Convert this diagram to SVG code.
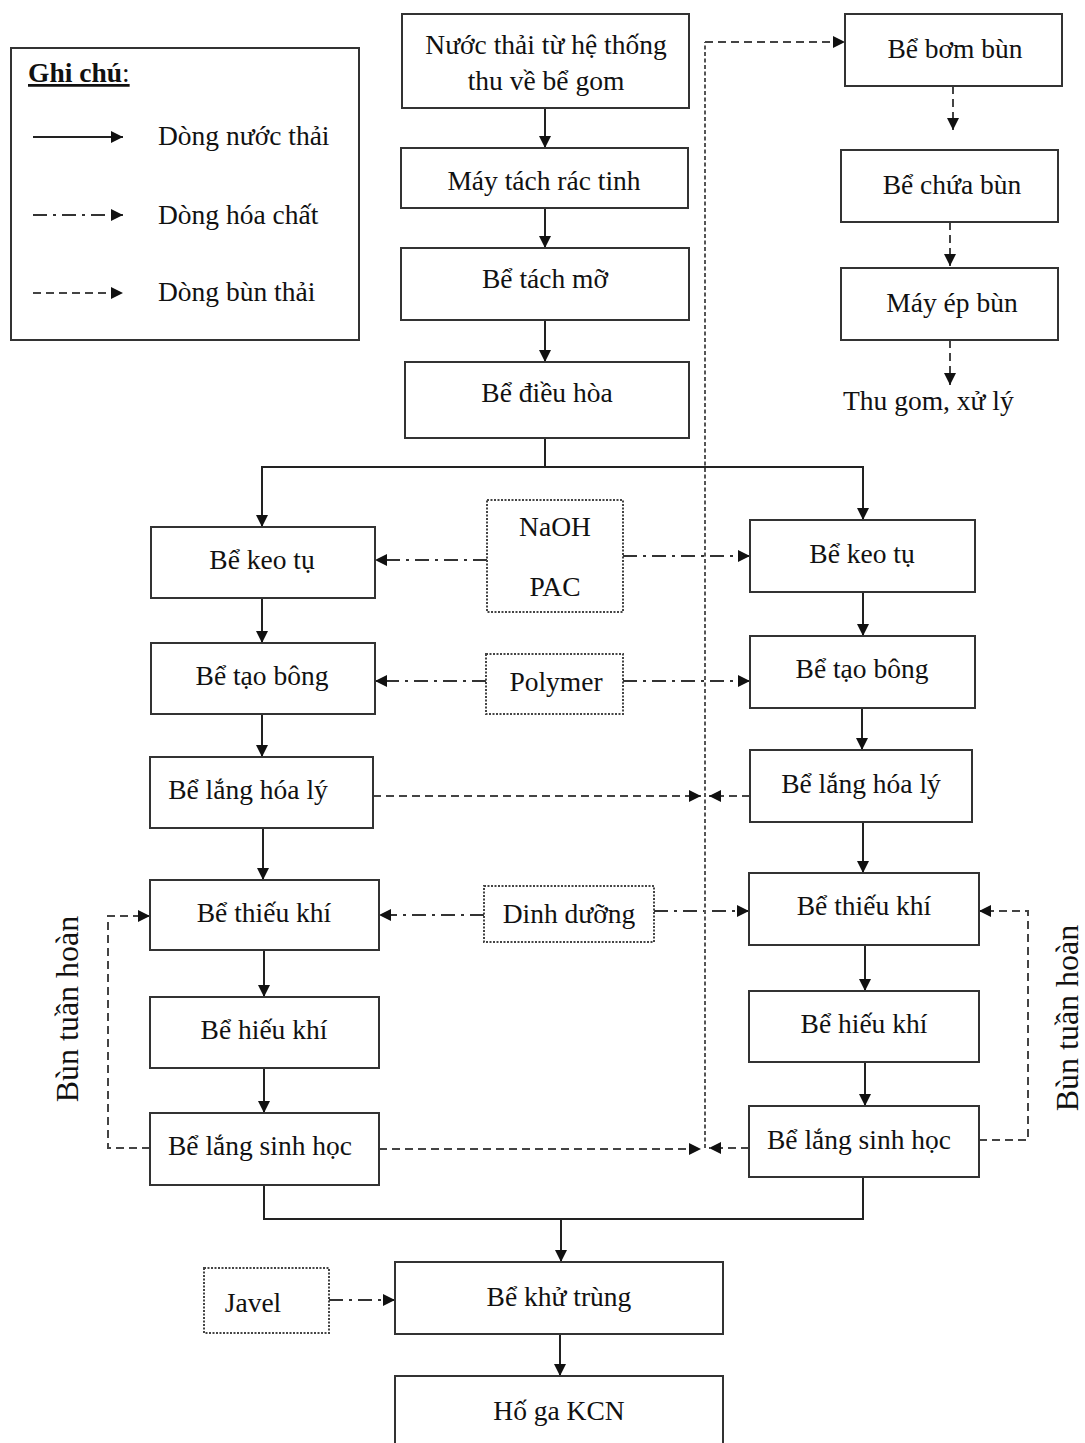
<svg xmlns="http://www.w3.org/2000/svg" width="1085" height="1443" viewBox="0 0 1085 1443">
  <style>
    text { font-family: "Liberation Serif", "Times New Roman", serif; font-size: 27.5px; fill: #111; }
    .box { fill: #fff; stroke: #333; stroke-width: 2; }
    .chem { fill: #fff; stroke: #444; stroke-width: 2; stroke-dasharray: 2 1.5; }
    .flow { fill: none; stroke: #222; stroke-width: 2; }
    .dose { fill: none; stroke: #333; stroke-width: 2; stroke-dasharray: 14 6 3 6; }
    .sludge { fill: none; stroke: #444; stroke-width: 2; stroke-dasharray: 8 5; }
    .trunk { fill: none; stroke: #555; stroke-width: 2; stroke-dasharray: 4 2.5; }
    .c { text-anchor: middle; dominant-baseline: central; }
    .rot { font-size: 32px; }
  </style>
  <defs>
    <marker id="ah" viewBox="0 0 10 10" refX="10" refY="5" markerWidth="12" markerHeight="12" markerUnits="userSpaceOnUse" orient="auto">
      <path d="M0,0 L10,5 L0,10 z" fill="#111"/>
    </marker>
  </defs>

  <rect width="1085" height="1443" fill="#fff"/>

  <!-- legend -->
  <g id="legend">
    <rect x="11" y="48" width="348" height="292" class="box"/>
    <text x="28" y="82" style="font-weight:bold;text-decoration:underline">Ghi chú<tspan style="font-weight:normal">:</tspan></text>
    <line x1="33" y1="137" x2="123" y2="137" class="flow" marker-end="url(#ah)"/>
    <line x1="33" y1="215" x2="123" y2="215" class="dose" marker-end="url(#ah)"/>
    <line x1="33" y1="293" x2="123" y2="293" class="sludge" marker-end="url(#ah)"/>
    <text x="158" y="145">Dòng nước thải</text>
    <text x="158" y="224">Dòng hóa chất</text>
    <text x="158" y="301">Dòng bùn thải</text>
  </g>

  <!-- connectors -->
  <g id="connectors">
    <!-- main water line -->
    <line x1="545" y1="108" x2="545" y2="148" class="flow" marker-end="url(#ah)"/>
    <line x1="545" y1="208" x2="545" y2="248" class="flow" marker-end="url(#ah)"/>
    <line x1="545" y1="320" x2="545" y2="362" class="flow" marker-end="url(#ah)"/>
    <polyline points="545,438 545,467 262,467 262,527" class="flow" marker-end="url(#ah)"/>
    <polyline points="545,467 863,467 863,520" class="flow" marker-end="url(#ah)"/>
    <!-- left train -->
    <line x1="262" y1="598" x2="262" y2="643" class="flow" marker-end="url(#ah)"/>
    <line x1="262" y1="714" x2="262" y2="757" class="flow" marker-end="url(#ah)"/>
    <line x1="263" y1="828" x2="263" y2="880" class="flow" marker-end="url(#ah)"/>
    <line x1="264" y1="950" x2="264" y2="997" class="flow" marker-end="url(#ah)"/>
    <line x1="264" y1="1068" x2="264" y2="1113" class="flow" marker-end="url(#ah)"/>
    <!-- right train -->
    <line x1="863" y1="592" x2="863" y2="636" class="flow" marker-end="url(#ah)"/>
    <line x1="862" y1="708" x2="862" y2="750" class="flow" marker-end="url(#ah)"/>
    <line x1="863" y1="822" x2="863" y2="873" class="flow" marker-end="url(#ah)"/>
    <line x1="865" y1="945" x2="865" y2="991" class="flow" marker-end="url(#ah)"/>
    <line x1="865" y1="1062" x2="865" y2="1106" class="flow" marker-end="url(#ah)"/>
    <!-- merge to disinfection -->
    <polyline points="264,1185 264,1219 863,1219 863,1177" class="flow"/>
    <line x1="561" y1="1219" x2="561" y2="1262" class="flow" marker-end="url(#ah)"/>
    <line x1="560" y1="1334" x2="560" y2="1376" class="flow" marker-end="url(#ah)"/>

    <!-- chemical dosing -->
    <line x1="487" y1="560" x2="375" y2="560" class="dose" marker-end="url(#ah)"/>
    <line x1="623" y1="556" x2="750" y2="556" class="dose" marker-end="url(#ah)"/>
    <line x1="486" y1="681" x2="375" y2="681" class="dose" marker-end="url(#ah)"/>
    <line x1="623" y1="681" x2="750" y2="681" class="dose" marker-end="url(#ah)"/>
    <line x1="484" y1="915" x2="379" y2="915" class="dose" marker-end="url(#ah)"/>
    <line x1="654" y1="911" x2="749" y2="911" class="dose" marker-end="url(#ah)"/>
    <line x1="329" y1="1300" x2="395" y2="1300" class="dose" marker-end="url(#ah)"/>

    <!-- sludge collection trunk -->
    <line x1="705" y1="1148" x2="705" y2="42" class="trunk"/>
    <line x1="705" y1="42" x2="845" y2="42" class="sludge" marker-end="url(#ah)"/>
    <line x1="373" y1="796" x2="701" y2="796" class="sludge" marker-end="url(#ah)"/>
    <line x1="750" y1="796" x2="709" y2="796" class="sludge" marker-end="url(#ah)"/>
    <line x1="379" y1="1149" x2="701" y2="1149" class="sludge" marker-end="url(#ah)"/>
    <line x1="749" y1="1148" x2="709" y2="1148" class="sludge" marker-end="url(#ah)"/>
    <!-- sludge handling -->
    <line x1="953" y1="86" x2="953" y2="130" class="sludge" marker-end="url(#ah)"/>
    <line x1="950" y1="222" x2="950" y2="266" class="sludge" marker-end="url(#ah)"/>
    <line x1="950" y1="340" x2="950" y2="385" class="sludge" marker-end="url(#ah)"/>
    <!-- return sludge -->
    <polyline points="150,1148 108,1148 108,916 150,916" class="sludge" marker-end="url(#ah)"/>
    <polyline points="979,1140 1028,1140 1028,911 979,911" class="sludge" marker-end="url(#ah)"/>
  </g>

  <!-- main line -->
  <g id="n-inlet"><rect x="402" y="14" width="287" height="94" class="box"/>
    <text x="546" y="44" class="c">Nước thải từ hệ thống</text>
    <text x="546" y="80" class="c">thu về bể gom</text></g>
  <g id="n-screen"><rect x="401" y="148" width="287" height="60" class="box"/>
    <text x="544" y="180" class="c">Máy tách rác tinh</text></g>
  <g id="n-grease"><rect x="401" y="248" width="288" height="72" class="box"/>
    <text x="545" y="278" class="c">Bể tách mỡ</text></g>
  <g id="n-equal"><rect x="405" y="362" width="284" height="76" class="box"/>
    <text x="547" y="392" class="c">Bể điều hòa</text></g>

  <!-- left train -->
  <g id="n-coag-l"><rect x="151" y="527" width="224" height="71" class="box"/>
    <text x="262" y="559" class="c">Bể keo tụ</text></g>
  <g id="n-floc-l"><rect x="151" y="643" width="224" height="71" class="box"/>
    <text x="262" y="675" class="c">Bể tạo bông</text></g>
  <g id="n-sed1-l"><rect x="150" y="757" width="223" height="71" class="box"/>
    <text x="248" y="789" class="c">Bể lắng hóa lý</text></g>
  <g id="n-anox-l"><rect x="150" y="880" width="229" height="70" class="box"/>
    <text x="264" y="912" class="c">Bể thiếu khí</text></g>
  <g id="n-aer-l"><rect x="150" y="997" width="229" height="71" class="box"/>
    <text x="264" y="1029" class="c">Bể hiếu khí</text></g>
  <g id="n-sed2-l"><rect x="150" y="1113" width="229" height="72" class="box"/>
    <text x="260" y="1145" class="c">Bể lắng sinh học</text></g>

  <!-- right train -->
  <g id="n-coag-r"><rect x="750" y="520" width="225" height="72" class="box"/>
    <text x="862" y="553" class="c">Bể keo tụ</text></g>
  <g id="n-floc-r"><rect x="750" y="636" width="225" height="72" class="box"/>
    <text x="862" y="668" class="c">Bể tạo bông</text></g>
  <g id="n-sed1-r"><rect x="750" y="750" width="222" height="72" class="box"/>
    <text x="861" y="783" class="c">Bể lắng hóa lý</text></g>
  <g id="n-anox-r"><rect x="749" y="873" width="230" height="72" class="box"/>
    <text x="864" y="905" class="c">Bể thiếu khí</text></g>
  <g id="n-aer-r"><rect x="749" y="991" width="230" height="71" class="box"/>
    <text x="864" y="1023" class="c">Bể hiếu khí</text></g>
  <g id="n-sed2-r"><rect x="749" y="1106" width="230" height="71" class="box"/>
    <text x="859" y="1139" class="c">Bể lắng sinh học</text></g>

  <!-- chemicals -->
  <g id="n-naoh-pac"><rect x="487" y="500" width="136" height="112" class="chem"/>
    <text x="555" y="526" class="c">NaOH</text>
    <text x="555" y="586" class="c">PAC</text></g>
  <g id="n-polymer"><rect x="486" y="654" width="137" height="60" class="chem"/>
    <text x="556" y="681" class="c">Polymer</text></g>
  <g id="n-nutrient"><rect x="484" y="886" width="170" height="56" class="chem"/>
    <text x="569" y="913" class="c">Dinh dưỡng</text></g>
  <g id="n-javel"><rect x="204" y="1268" width="125" height="65" class="chem"/>
    <text x="253" y="1302" class="c">Javel</text></g>

  <!-- disinfection and outlet -->
  <g id="n-disinf"><rect x="395" y="1262" width="328" height="72" class="box"/>
    <text x="559" y="1296" class="c">Bể khử trùng</text></g>
  <g id="n-outlet"><rect x="395" y="1376" width="328" height="80" class="box"/>
    <text x="559" y="1410" class="c">Hố ga KCN</text></g>

  <!-- sludge handling -->
  <g id="n-sludge-pump"><rect x="845" y="14" width="217" height="72" class="box"/>
    <text x="955" y="48" class="c">Bể bơm bùn</text></g>
  <g id="n-sludge-tank"><rect x="841" y="150" width="217" height="72" class="box"/>
    <text x="952" y="184" class="c">Bể chứa bùn</text></g>
  <g id="n-press"><rect x="841" y="268" width="217" height="72" class="box"/>
    <text x="952" y="302" class="c">Máy ép bùn</text></g>
  <g id="n-disposal"><text x="843" y="410">Thu gom, xử lý</text></g>

  <!-- return sludge labels -->
  <g id="lbl-return-l"><text transform="translate(67,1009) rotate(-90)" class="c rot">Bùn tuần hoàn</text></g>
  <g id="lbl-return-r"><text transform="translate(1067,1018) rotate(-90)" class="c rot">Bùn tuần hoàn</text></g>
</svg>
